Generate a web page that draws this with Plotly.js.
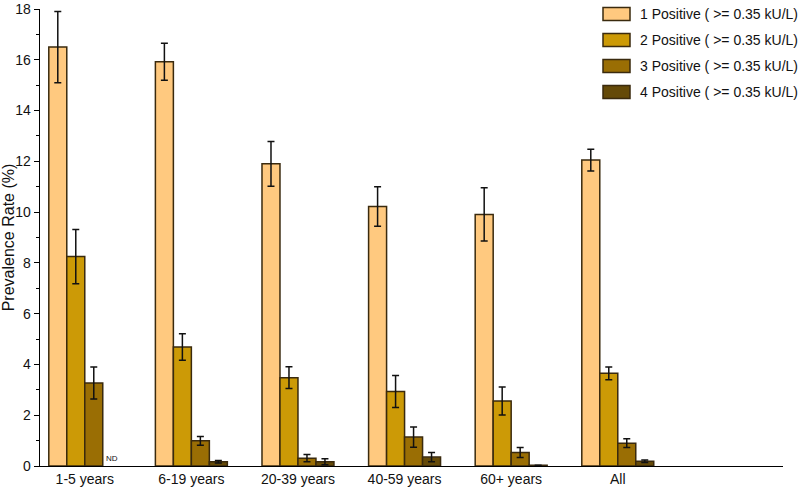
<!DOCTYPE html>
<html>
<head>
<meta charset="utf-8">
<script src="https://cdn.plot.ly/plotly-3.0.1.min.js"></script>
<style>html,body{margin:0;padding:0;background:#fff;}#chart{width:800px;height:493px;}</style>
</head>
<body>
<div id="chart"></div>
<script>
const categories = ["1-5 years", "6-19 years", "20-39 years", "40-59 years", "60+ years", "All"];
const seriesNames = ["1 Positive ( >= 0.35 kU/L)", "2 Positive ( >= 0.35 kU/L)", "3 Positive ( >= 0.35 kU/L)", "4 Positive ( >= 0.35 kU/L)"];
const positive1 = [16.5, 15.92, 11.9, 10.22, 9.91, 12.05];
const positive1Err = [1.4, 0.73, 0.88, 0.78, 1.05, 0.43];
const positive2 = [8.25, 4.69, 3.48, 2.93, 2.56, 3.65];
const positive2Err = [1.07, 0.52, 0.43, 0.63, 0.55, 0.25];
const positive3 = [3.27, 0.99, 0.31, 1.14, 0.53, 0.9];
const positive3Err = [0.63, 0.17, 0.14, 0.4, 0.2, 0.17];
const positive4 = [null, 0.17, 0.17, 0.35, 0.03, 0.19];
const positive4Err = [0, 0.05, 0.12, 0.18, 0, 0.05];
const ndLabel = "ND";

const colors = ["#FFC97F", "#CC9A06", "#9A6E04", "#654A08"];
const outline = "#3a2a0e";
const values = [positive1, positive2, positive3, positive4];
const errs = [positive1Err, positive2Err, positive3Err, positive4Err];

const traces = values.map((v, i) => ({
  type: "bar",
  name: seriesNames[i],
  x: categories,
  y: v,
  marker: {color: colors[i], line: {color: outline, width: 1.5}},
  error_y: {type: "data", array: errs[i], visible: true, color: "#111", thickness: 1.5, width: 3.5},
  hoverinfo: "none"
}));

const font = "Liberation Sans, Arial, sans-serif";
const W = 800, H = 493;
const M = {l: 40, r: 17, t: 9, b: 27};
const pw = W - M.l - M.r, ph = H - M.t - M.b;
const px2x = p => (p - M.l) / pw;
const py2y = p => (H - M.b - p) / ph;

// custom legend (wide swatches like the reference)
const legendShapes = [], legendNotes = [];
seriesNames.forEach((name, i) => {
  const cy = 14 + i * 26;
  legendShapes.push({
    type: "rect", xref: "paper", yref: "paper",
    x0: px2x(603), x1: px2x(630), y0: py2y(cy + 6.5), y1: py2y(cy - 6.5),
    fillcolor: colors[i], line: {color: outline, width: 1.5}
  });
  legendNotes.push({
    xref: "paper", yref: "paper", x: px2x(638), y: py2y(cy),
    xanchor: "left", yanchor: "middle", showarrow: false,
    text: name, font: {family: font, size: 14, color: "#111"}
  });
});

const layout = {
  width: W, height: H,
  margin: {l: M.l, r: M.r, t: M.t, b: M.b, pad: 0},
  paper_bgcolor: "#fff", plot_bgcolor: "#fff",
  font: {family: font, size: 14, color: "#111"},
  barmode: "group",
  bargap: 0.325,
  bargroupgap: 0,
  showlegend: false,
  xaxis: {
    type: "category",
    range: [-0.42, 6.55],
    showline: true, linecolor: "#000", linewidth: 1.3,
    ticks: "", showgrid: false, zeroline: false,
    tickfont: {family: font, size: 14, color: "#111"},
    automargin: false
  },
  yaxis: {
    range: [0, 18],
    dtick: 2, tick0: 0,
    showline: true, linecolor: "#000", linewidth: 1.3,
    ticks: "outside", ticklen: 5, tickwidth: 1, tickcolor: "#000",
    minor: {dtick: 1, ticks: "outside", ticklen: 3, tickcolor: "#000", showgrid: false},
    showgrid: false, zeroline: false,
    ticklabeloverflow: "allow",
    tickfont: {family: font, size: 14, color: "#111"},
    title: {text: "Prevalence Rate (%)", font: {family: font, size: 16, color: "#111"}, standoff: 5},
    automargin: false
  },
  shapes: legendShapes,
  annotations: [{
    x: 0.253, y: 0, xref: "x", yref: "y",
    text: ndLabel, showarrow: false,
    yanchor: "bottom", yshift: 1,
    font: {family: font, size: 8, color: "#111"}
  }].concat(legendNotes)
};

Plotly.newPlot("chart", traces, layout, {displayModeBar: false, staticPlot: true});
</script>
</body>
</html>
